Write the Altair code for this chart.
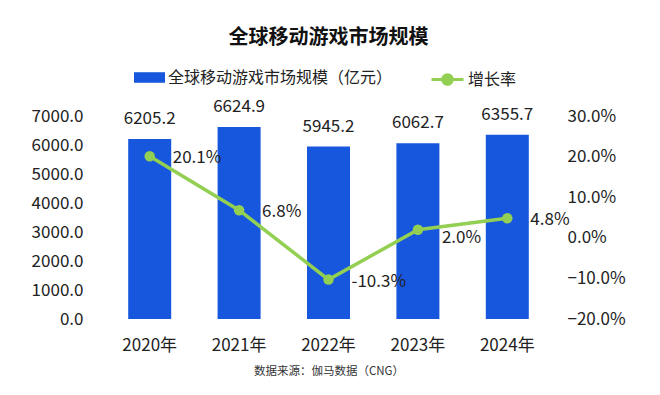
import altair as alt
import pandas as pd

years = ["2020年", "2021年", "2022年", "2023年", "2024年"]
market = [6205.2, 6624.9, 5945.2, 6062.7, 6355.7]
growth = [20.1, 6.8, -10.3, 2.0, 4.8]
growth_labels = ["20.1%", "6.8%", "-10.3%", "2.0%", "4.8%"]
market_labels = ["6205.2", "6624.9", "5945.2", "6062.7", "6355.7"]
left_ticks = [0, 1000, 2000, 3000, 4000, 5000, 6000, 7000]
right_ticks = [-20, -10, 0, 10, 20, 30]

bar_name = "全球移动游戏市场规模（亿元）"
line_name = "增长率"
BLUE = "#1757dd"
GREEN = "#93cf52"
FONT = "Noto Sans CJK SC"

df = pd.DataFrame({
    "year": years, "market": market, "growth": growth,
    "glabel": growth_labels, "mlabel": market_labels,
    "s_bar": bar_name, "s_line": line_name,
})

x = alt.X("year:N", sort=years, scale=alt.Scale(paddingInner=0.52, paddingOuter=0.26),
          axis=alt.Axis(title="数据来源：伽马数据（CNG）", titleFontSize=11.5, titleFontWeight="normal",
                        titleColor="#333", titlePadding=12, labelAngle=0, labelFontSize=17,
                        labelColor="#222", labelPadding=18, ticks=False, domain=False))

yl = alt.Scale(domain=[0, 7000])
yr = alt.Scale(domain=[-20, 30])
yl_axis = alt.Axis(title=None, values=left_ticks, format=".1f", labelFontSize=17, labelColor="#222",
                   ticks=False, domain=False, grid=False, labelPadding=22)
yr_axis = alt.Axis(title=None, orient="right", values=right_ticks,
                   labelExpr="format(datum.value, '.1f') + '%'", labelFontSize=17,
                   labelColor="#222", ticks=False, domain=False, grid=False, labelPadding=15)

bars = alt.Chart(df).mark_bar(size=43).encode(
    x=x,
    y=alt.Y("market:Q", scale=yl, axis=yl_axis),
    color=alt.Color("s_bar:N", scale=alt.Scale(domain=[bar_name], range=[BLUE]),
                    legend=alt.Legend(title=None, orient="none", legendX=29, legendY=-54,
                                      labelFontSize=16, labelColor="#222", labelLimit=400,
                                      labelOffset=3,
                                      symbolType="M-1,-0.34H1V0.34H-1Z", symbolSize=961,
                                      symbolStrokeWidth=0, labelFont=FONT)),
)

bar_text = alt.Chart(df).mark_text(dy=-11, baseline="bottom", fontSize=17, color="#222").encode(
    x=alt.X("year:N", sort=years), y=alt.Y("market:Q", scale=yl, axis=yl_axis), text="mlabel:N")

left = alt.layer(bars, bar_text)

line = alt.Chart(df).mark_line(strokeWidth=3.5).encode(
    x=alt.X("year:N", sort=years),
    y=alt.Y("growth:Q", scale=yr, axis=yr_axis),
    stroke=alt.Stroke("s_line:N", scale=alt.Scale(domain=[line_name], range=[GREEN]),
                      legend=alt.Legend(title=None, orient="none", legendX=325, legendY=-54,
                                        labelFontSize=16, labelColor="#222", labelOffset=3,
                                        symbolType="M-1,0H1M0.3,0A0.3,0.3 0 1,1 -0.3,0A0.3,0.3 0 1,1 0.3,0Z",
                                        symbolSize=1024, symbolStrokeWidth=3, symbolFillColor=GREEN,
                                        labelFont=FONT)),
)
pts = alt.Chart(df).mark_circle(size=110, opacity=1, color=GREEN).encode(
    x=alt.X("year:N", sort=years), y=alt.Y("growth:Q", scale=yr, axis=yr_axis))
line_text = alt.Chart(df).transform_filter(alt.datum.year != "2023年").mark_text(
    dx=23, dy=2, align="left", fontSize=17, color="#222").encode(
    x=alt.X("year:N", sort=years), y=alt.Y("growth:Q", scale=yr, axis=yr_axis), text="glabel:N")
line_text_low = alt.Chart(df).transform_filter(alt.datum.year == "2023年").mark_text(
    dx=24, dy=8, align="left", fontSize=17, color="#222").encode(
    x=alt.X("year:N", sort=years), y=alt.Y("growth:Q", scale=yr, axis=yr_axis), text="glabel:N")

right = alt.layer(line, pts, line_text, line_text_low)

chart = alt.layer(left, right).resolve_scale(y="independent", color="independent", stroke="independent").properties(
    width=447, height=203,
    title=alt.Title("全球移动游戏市场规模", fontSize=20, fontWeight="bold", color="#111", offset=14, font=FONT),
    autosize=alt.AutoSizeParams(type="none"),
    padding={"left": 97, "top": 108, "right": 96, "bottom": 66},
).configure(font=FONT).configure_view(stroke=None)

chart.save("out.html", embed_options={"renderer": "svg", "actions": False})
